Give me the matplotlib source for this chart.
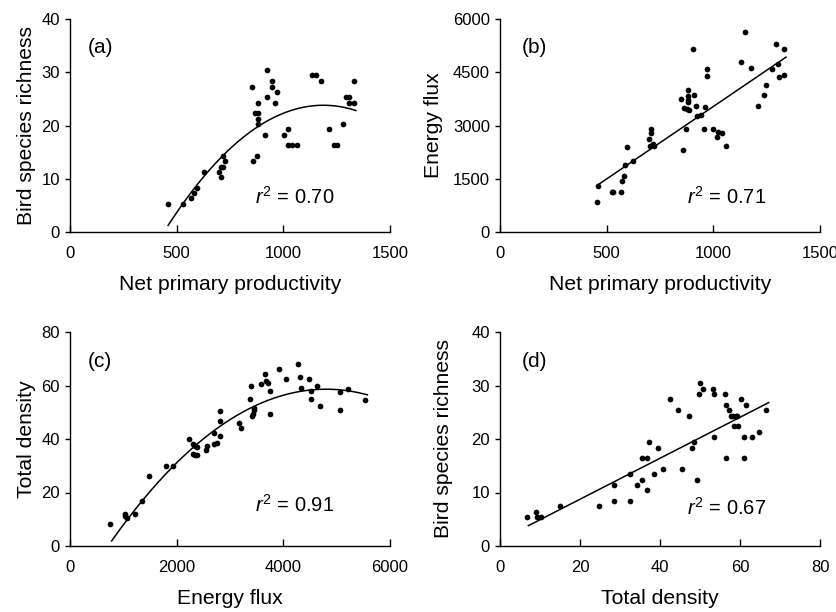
import numpy as np
import matplotlib
matplotlib.use("Agg")
import matplotlib.pyplot as plt

# ---------------- data ----------------
# (a) NPP vs bird species richness
npp_a = [458, 528, 567, 581, 594, 628, 700, 708, 710, 719, 716, 727, 852, 859, 875,
         867, 880, 883, 883, 883, 914, 922, 923, 948, 948, 963, 970, 1005, 1022, 1022,
         1042, 1063, 1134, 1152, 1178, 1213, 1238, 1250, 1278, 1294, 1309, 1306, 1333, 1331]
rich_a = [5.3, 5.3, 6.3, 7.3, 8.3, 11.3, 11.3, 10.3, 12.3, 12.3, 14.3, 13.3, 27.3, 13.3, 14.3,
          22.3, 22.3, 24.3, 21.3, 20.3, 18.3, 25.3, 30.4, 28.3, 27.3, 24.3, 26.3, 18.3, 19.3, 16.3,
          16.3, 16.3, 29.4, 29.4, 28.3, 19.3, 16.3, 16.3, 20.3, 25.3, 25.3, 24.3, 24.3, 28.3]
fit_a = [-4.26e-5, 0.1012, -36.3]      # quadratic coefficients
fit_a_range = [460, 1340]

# (b) NPP vs energy flux
npp_b = [455, 458, 523, 531, 566, 572, 580, 584, 594, 625, 698, 709, 709, 705, 716,
         723, 856, 848, 872, 864, 875, 881, 881, 881, 881, 884, 911, 920, 922, 944,
         961, 903, 969, 969, 958, 1000, 1017, 1023, 1041, 1059, 1131, 1148, 1175, 1211, 1236,
         1245, 1275, 1295, 1303, 1306, 1330, 1331]
flux_b = [836, 1305, 1127, 1127, 1127, 1437, 1568, 1887, 2394, 1991, 2629, 2901, 2789, 2413, 2488,
          2432, 2310, 3756, 2892, 3493, 3465, 3822, 3728, 3662, 4010, 3446, 3850, 3540, 3258, 3287,
          3512, 5155, 4601, 4404, 2901, 2901, 2667, 2817, 2789, 2432, 4798, 5634, 4610, 3549, 3850,
          4150, 4582, 5296, 4732, 4366, 5145, 4422]
fit_b = [4.08, -545]                    # linear coefficients
fit_b_range = [458, 1341]

# (c) energy flux vs total density
flux_c = [750, 1031, 1037, 1062, 1225, 1356, 1487, 1800, 1925, 2225, 2300, 2337, 2375, 2300, 2337,
          2375, 2550, 2575, 2700, 2700, 2750, 2812, 2812, 2818, 3175, 3206, 3375, 3400, 3418, 3437,
          3456, 3456, 3575, 3656, 3675, 3719, 3756, 3750, 3919, 4056, 4275, 4306, 4331, 4475, 4512,
          4512, 4631, 4694, 5062, 5062, 5212, 5525]
dens_c = [8.3, 12.0, 11.2, 10.3, 11.8, 16.8, 26.2, 29.9, 29.9, 40.0, 38.0, 37.3, 36.9, 34.3, 33.9,
          33.9, 35.8, 37.3, 42.2, 38.3, 38.5, 50.5, 46.9, 41.0, 45.8, 44.0, 54.9, 60.0, 48.7, 49.4,
          50.7, 51.5, 60.5, 64.2, 61.7, 61.0, 57.9, 49.3, 66.2, 62.3, 67.9, 63.0, 58.9, 62.3, 57.9,
          54.9, 59.7, 52.2, 57.6, 51.0, 58.7, 54.6]
fit_c = [-3.51e-6, 0.0337, -22.27]      # quadratic coefficients
fit_c_range = [781, 5575]

# (d) total density vs bird species richness
dens_d = [6.75, 8.9, 9.25, 10.2, 15.1, 24.75, 28.5, 28.5, 32.5, 32.5, 34.25, 35.4, 35.6, 36.7, 36.7,
          37.25, 38.5, 39.4, 40.7, 42.4, 44.5, 45.6, 47.3, 47.9, 48.5, 49.25, 49.7, 49.9, 50.7, 53.25,
          53.6, 53.5, 56.3, 56.4, 56.4, 57.3, 57.7, 58.3, 58.9, 59.25, 58.5, 59.6, 60.2, 61.0, 61.0,
          61.5, 62.9, 64.8, 66.6]
rich_d = [5.4, 6.4, 5.4, 5.4, 7.4, 7.4, 11.4, 8.4, 13.4, 8.4, 11.4, 12.4, 16.4, 16.4, 10.4,
          19.4, 13.4, 18.4, 14.4, 27.4, 25.4, 14.4, 24.3, 18.4, 19.4, 12.4, 28.4, 30.4, 29.4, 29.4,
          28.4, 20.4, 28.4, 26.4, 16.4, 25.4, 24.3, 24.3, 24.3, 24.3, 22.4, 22.4, 27.4, 20.4, 16.4,
          26.4, 20.4, 21.4, 25.4]
fit_d = [0.383, 1.08]                   # linear coefficients
fit_d_range = [7.1, 67.2]

panels = [
    dict(x=npp_a, y=rich_a, fit=fit_a, rng=fit_a_range, xlim=(0, 1500), ylim=(0, 40),
         xticks=[0, 500, 1000, 1500], yticks=[0, 10, 20, 30, 40],
         xlabel="Net primary productivity", ylabel="Bird species richness",
         tag="(a)", r2="0.70"),
    dict(x=npp_b, y=flux_b, fit=fit_b, rng=fit_b_range, xlim=(0, 1500), ylim=(0, 6000),
         xticks=[0, 500, 1000, 1500], yticks=[0, 1500, 3000, 4500, 6000],
         xlabel="Net primary productivity", ylabel="Energy flux",
         tag="(b)", r2="0.71"),
    dict(x=flux_c, y=dens_c, fit=fit_c, rng=fit_c_range, xlim=(0, 6000), ylim=(0, 80),
         xticks=[0, 2000, 4000, 6000], yticks=[0, 20, 40, 60, 80],
         xlabel="Energy flux", ylabel="Total density",
         tag="(c)", r2="0.91"),
    dict(x=dens_d, y=rich_d, fit=fit_d, rng=fit_d_range, xlim=(0, 80), ylim=(0, 40),
         xticks=[0, 20, 40, 60, 80], yticks=[0, 10, 20, 30, 40],
         xlabel="Total density", ylabel="Bird species richness",
         tag="(d)", r2="0.67"),
]

# ---------------- style ----------------
plt.rcParams['font.family'] = ['Liberation Sans', 'DejaVu Sans']
plt.rcParams['mathtext.fontset'] = 'custom'
plt.rcParams['mathtext.rm'] = 'Liberation Sans'
plt.rcParams['mathtext.it'] = 'Liberation Sans:italic'

W, H = 837, 612
fig = plt.figure(figsize=(W / 100, H / 100), dpi=100)

# axes boxes in pixels: left, top, right, bottom
boxes = [(70, 19, 390, 232), (500, 19, 820, 232),
         (70, 332, 390, 546), (500, 332, 820, 546)]
tag_pos = [(0.056, 0.864), (0.069, 0.868), (0.056, 0.86), (0.069, 0.86)]
r2_pos = [(0.578, 0.164), (0.584, 0.164), (0.578, 0.19), (0.584, 0.178)]
ylab_x = [-0.105, -0.178, -0.105, -0.147]

for p, (l, t, r, b), tp, rp, yx in zip(panels, boxes, tag_pos, r2_pos, ylab_x):
    ax = fig.add_axes([l / W, 1 - b / H, (r - l) / W, (b - t) / H])
    ax.scatter(p['x'], p['y'], s=17, color='black', linewidths=0, zorder=3)
    xs = np.linspace(p['rng'][0], p['rng'][1], 200)
    ax.plot(xs, np.polyval(p['fit'], xs), color='black', lw=1.1, zorder=2)
    ax.set_xlim(*p['xlim'])
    ax.set_ylim(*p['ylim'])
    ax.set_xticks(p['xticks'])
    ax.set_yticks(p['yticks'])
    for s in ['top', 'right']:
        ax.spines[s].set_visible(False)
    for s in ['left', 'bottom']:
        ax.spines[s].set_linewidth(1.0)
    ax.tick_params(axis='x', direction='in', length=5, width=1.0, pad=10, labelsize=12)
    ax.tick_params(axis='y', direction='out', length=3.6, width=1.0, pad=3.6, labelsize=12)
    ax.set_xlabel(p['xlabel'], fontsize=15.2, labelpad=10)
    ax.set_ylabel(p['ylabel'], fontsize=15.2)
    ax.yaxis.set_label_coords(yx, 0.5)
    ax.text(tp[0], tp[1], p['tag'], transform=ax.transAxes, fontsize=15,
            ha='left', va='center')
    ax.text(rp[0], rp[1], r'$r^2$ = ' + p['r2'], transform=ax.transAxes, fontsize=14.5,
            ha='left', va='center')

fig.savefig("out.png", dpi=100)
